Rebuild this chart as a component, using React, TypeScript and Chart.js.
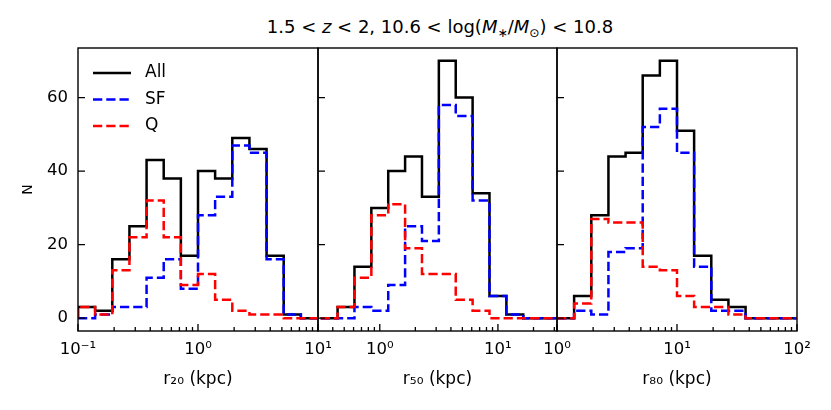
import React, { useEffect, useRef } from "react";
import Chart from "chart.js/auto";

// bin edges (kpc), 7 bins per decade
const r20Edges = [0.1, 0.1389, 0.1931, 0.2683, 0.3728, 0.5179, 0.7197, 1, 1.389, 1.931, 2.683, 3.728, 5.179, 7.197, 10];
const r50Edges = [0.3162, 0.4394, 0.6105, 0.8483, 1.179, 1.638, 2.276, 3.162, 4.394, 6.105, 8.483, 11.79, 16.38, 22.76, 31.62];
const r80Edges = [1, 1.389, 1.931, 2.683, 3.728, 5.179, 7.197, 10, 13.89, 19.31, 26.83, 37.28, 51.79, 71.97, 100];

// counts per bin
const r20All = [3, 2, 16, 25, 43, 38, 17, 40, 38, 49, 46, 17, 1, 0];
const r20SF = [0, 1, 3, 3, 11, 16, 8, 28, 33, 47, 45, 16, 1, 0];
const r20Q = [3, 1, 13, 22, 32, 22, 9, 12, 5, 2, 1, 1, 0, 0];

const r50All = [0, 3, 14, 30, 40, 44, 33, 70, 60, 34, 6, 1, 0, 0];
const r50SF = [0, 0, 3, 2, 9, 25, 21, 58, 55, 32, 6, 1, 0, 0];
const r50Q = [0, 3, 11, 28, 31, 19, 12, 12, 5, 2, 0, 0, 0, 0];

const r80All = [0, 6, 28, 44, 45, 66, 70, 51, 17, 5, 3, 0, 0, 0];
const r80SF = [0, 2, 1, 18, 19, 52, 57, 45, 14, 2, 2, 0, 0, 0];
const r80Q = [0, 4, 27, 26, 26, 14, 13, 6, 3, 3, 1, 0, 0, 0];

// axes
const r20Majors = [0.1, 1, 10];
const r20Labels = ["10⁻¹", "10⁰", "10¹"];
const r50Majors = [1, 10];
const r50Labels = ["10⁰", "10¹"];
const r80Majors = [1, 10, 100];
const r80Labels = ["10⁰", "10¹", "10²"];
const yTicks = [0, 20, 40, 60];
const xTitles = ["r₂₀ (kpc)", "r₅₀ (kpc)", "r₈₀ (kpc)"];
const seriesNames = ["All", "SF", "Q"];

const panels = [
  { edges: r20Edges, series: [r20All, r20SF, r20Q], majors: r20Majors, labels: r20Labels },
  { edges: r50Edges, series: [r50All, r50SF, r50Q], majors: r50Majors, labels: r50Labels },
  { edges: r80Edges, series: [r80All, r80SF, r80Q], majors: r80Majors, labels: r80Labels },
];

// pixel frame of each panel
const frames = [
  { left: 78, right: 318 },
  { left: 318, right: 557 },
  { left: 557, right: 797 },
];

const W = 831;
const H = 410;
const FONT = "'DejaVu Sans'";
const colors = ["#000000", "#0000ff", "#ff0000"];
const dash = [9.25, 4];

Chart.defaults.font.family = FONT;
Chart.defaults.color = "#000";

const isPow10 = (v: number) => Math.abs(Math.log10(v) - Math.round(Math.log10(v))) < 1e-6;

const logTicks = (min: number, max: number) => {
  const out: number[] = [];
  for (let d = Math.floor(Math.log10(min)) - 1; d <= Math.ceil(Math.log10(max)); d++) {
    for (let k = 1; k <= 9; k++) {
      const v = k * Math.pow(10, d);
      if (v >= min * 0.999 && v <= max * 1.001) out.push(v);
    }
  }
  return out;
};

const steps = (edges: number[], counts: number[]) => {
  const n = counts.length;
  const pts = [{ x: edges[0], y: 0 }];
  counts.forEach((c, i) => pts.push({ x: edges[i], y: c }));
  pts.push({ x: edges[n], y: counts[n - 1] });
  pts.push({ x: edges[n], y: 0 });
  return pts;
};

const framePlugin = {
  id: "frame",
  afterDatasetsDraw(chart: any) {
    const { ctx, chartArea: a, scales } = chart;
    ctx.save();
    ctx.strokeStyle = "#000";
    ctx.lineWidth = 1.3;
    ctx.beginPath();
    scales.x.ticks.forEach((t: any) => {
      const px = scales.x.getPixelForValue(t.value);
      const len = isPow10(t.value) ? 7 : 4;
      ctx.moveTo(px, a.bottom);
      ctx.lineTo(px, a.bottom - len);
    });
    yTicks.forEach((v) => {
      const py = scales.y.getPixelForValue(v);
      ctx.moveTo(a.left, py);
      ctx.lineTo(a.left + 7, py);
    });
    ctx.stroke();
    ctx.lineWidth = 1.4;
    ctx.strokeRect(a.left, a.top, a.right - a.left, a.bottom - a.top);
    ctx.restore();
  },
};

const legendPlugin = {
  id: "histLegend",
  afterDatasetsDraw(chart: any) {
    const { ctx, chartArea: a } = chart;
    ctx.save();
    chart.data.datasets.forEach((ds: any, i: number) => {
      const y = a.top + 25 + i * 26.5;
      ctx.beginPath();
      ctx.strokeStyle = ds.borderColor;
      ctx.lineWidth = ds.borderWidth;
      ctx.setLineDash(ds.borderDash || []);
      ctx.moveTo(a.left + 15, y);
      ctx.lineTo(a.left + 53, y);
      ctx.stroke();
      ctx.setLineDash([]);
      ctx.fillStyle = "#000";
      ctx.font = `17px ${FONT}`;
      ctx.textBaseline = "middle";
      ctx.textAlign = "left";
      ctx.fillText(ds.label, a.left + 67, y);
    });
    ctx.restore();
  },
};

function makeChart(canvas: HTMLCanvasElement, idx: number) {
  const p = panels[idx];
  const f = frames[idx];
  const first = idx === 0;
  const min = p.edges[0];
  const max = p.edges[p.edges.length - 1];

  return new Chart(canvas, {
    type: "line",
    data: {
      datasets: p.series.map((counts, i) => ({
        label: seriesNames[i],
        data: steps(p.edges, counts),
        borderColor: colors[i],
        borderWidth: 2.5,
        borderDash: i === 0 ? [] : dash,
        borderJoinStyle: "miter",
        stepped: "before",
        pointRadius: 0,
        fill: false,
        order: 3 - i,
      })),
    },
    options: {
      animation: false,
      responsive: false,
      events: [],
      layout: {
        padding: { left: first ? 18 : f.left, right: W - f.right, top: 48, bottom: 19 },
      },
      plugins: {
        legend: { display: false },
        tooltip: { enabled: false },
      },
      scales: {
        x: {
          type: "logarithmic",
          min,
          max,
          afterBuildTicks: (s: any) => {
            s.ticks = logTicks(min, max).map((v) => ({ value: v }));
          },
          afterFit: (s: any) => {
            s.height = 60;
          },
          ticks: {
            autoSkip: false,
            maxRotation: 0,
            padding: 9,
            font: { size: 16.5 },
            color: "#000",
            callback: (v: any) => {
              const j = p.majors.findIndex((m) => Math.abs(Math.log10(m) - Math.log10(Number(v))) < 1e-6);
              return j >= 0 ? p.labels[j] : "";
            },
          },
          grid: { display: false, drawTicks: false },
          border: { display: false },
          title: {
            display: true,
            text: xTitles[idx],
            font: { size: 17 },
            color: "#000",
            padding: { top: 0, bottom: 1 },
          },
        },
        y: {
          type: "linear",
          min: -3.5,
          max: 73.5,
          display: first,
          afterBuildTicks: (s: any) => {
            s.ticks = yTicks.map((v) => ({ value: v }));
          },
          afterFit: (s: any) => {
            s.width = first ? 60 : 0;
          },
          ticks: { padding: 10, font: { size: 16.5 }, color: "#000" },
          grid: { display: false, drawTicks: false },
          border: { display: false },
          title: {
            display: true,
            text: "N",
            font: { size: 14 },
            color: "#000",
            padding: { top: 2, bottom: 0 },
          },
        },
      },
    },
    plugins: first ? [framePlugin, legendPlugin] : [framePlugin],
  } as any);
}

const App: React.FC = () => {
  const ref0 = useRef<HTMLCanvasElement>(null);
  const ref1 = useRef<HTMLCanvasElement>(null);
  const ref2 = useRef<HTMLCanvasElement>(null);

  useEffect(() => {
    const refs = [ref0, ref1, ref2];
    const charts = refs.map((r, i) => (r.current ? makeChart(r.current, i) : null));
    return () => {
      charts.forEach((c) => c && c.destroy());
    };
  }, []);

  const canvasStyle: React.CSSProperties = { position: "absolute", left: 0, top: 0, width: W, height: H };
  const sub: React.CSSProperties = { fontSize: "68%", position: "relative", top: "0.3em", fontStyle: "normal" };

  return (
    <div style={{ position: "fixed", left: 0, top: 0, width: W, height: H, background: "#fff", overflow: "hidden" }}>
      <div
        style={{
          position: "absolute",
          left: 49,
          width: 782,
          top: 18,
          textAlign: "center",
          fontFamily: FONT,
          fontSize: 18,
          lineHeight: "18px",
          color: "#000",
          whiteSpace: "nowrap",
        }}
      >
        1.5 &lt; <i>z</i> &lt; 2, 10.6 &lt; log(<i>M</i>
        <span style={sub}>∗</span>/<i>M</i>
        <span style={sub}>⊙</span>) &lt; 10.8
      </div>
      <canvas ref={ref0} width={W} height={H} style={canvasStyle} />
      <canvas ref={ref1} width={W} height={H} style={canvasStyle} />
      <canvas ref={ref2} width={W} height={H} style={canvasStyle} />
    </div>
  );
};

export default App;
